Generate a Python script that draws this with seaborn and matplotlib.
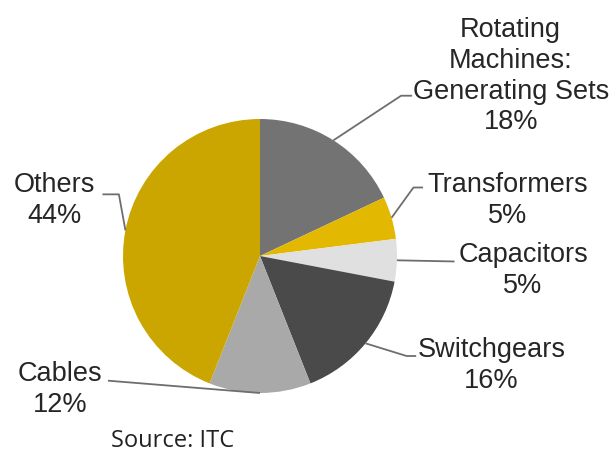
import numpy as np
import matplotlib
matplotlib.use("Agg")
import matplotlib.pyplot as plt
import seaborn as sns

sns.set_style("white")
plt.rcParams['font.family'] = ['Liberation Sans', 'DejaVu Sans']

# data
labels = ["Rotating\nMachines:\nGenerating Sets", "Transformers", "Capacitors",
          "Switchgears", "Cables", "Others"]
shares = [18, 5, 5, 16, 12, 44]
colors = ["#737373", "#E3B800", "#E0E0E0", "#4A4A4A", "#A9A9A9", "#CCA600"]

# label placement (text centre, elbow point) in pie units, radius = 1
text_pos = [(1.83, 1.32), (1.81, 0.41), (1.92, -0.10), (1.69, -0.79), (-1.46, -0.97), (-1.50, 0.41)]
elbow_pos = [(1.03, 1.17), (1.12, 0.50), (1.42, -0.04), (1.07, -0.73), (-1.11, -0.91), (-1.03, 0.45)]
elbow_end = [(1.11, 1.17), (1.19, 0.50), (1.42, -0.04), (1.14, -0.73), (-1.11, -0.91), (-1.15, 0.45)]

W, H = 615, 456
cx, cy, r = 260, 257, 137

fig = plt.figure(figsize=(W / 100, H / 100), dpi=100)
ax = fig.add_axes([(cx - r) / W, (H - cy - r) / H, 2 * r / W, 2 * r / H])
ax.pie(shares, colors=colors, startangle=90, counterclock=False,
       radius=1, wedgeprops=dict(linewidth=0))
ax.set_xlim(-1, 1)
ax.set_ylim(-1, 1)
ax.set_aspect("equal")
ax.axis("off")

cum = np.cumsum([0] + shares)
for i, lab in enumerate(labels):
    mid = 90 - 3.6 * (cum[i] + shares[i] / 2)
    px, py = np.cos(np.radians(mid)), np.sin(np.radians(mid))
    ex, ey = elbow_pos[i]
    fx, fy = elbow_end[i]
    ax.plot([px, ex, fx], [py, ey, fy], color="#6E6E6E", lw=1.3,
            clip_on=False, solid_capstyle="butt")
    tx, ty = text_pos[i]
    ax.text(tx, ty, f"{lab}\n{shares[i]}%", ha="center", va="center",
            fontsize=19.5, linespacing=1.24, clip_on=False)

fig.text(173 / W, 1 - 441 / H, "Source: ITC", ha="center", va="center",
         fontsize=17, family=["Open Sans", "DejaVu Sans"], color="#222222")

fig.savefig("out.png", dpi=100)
